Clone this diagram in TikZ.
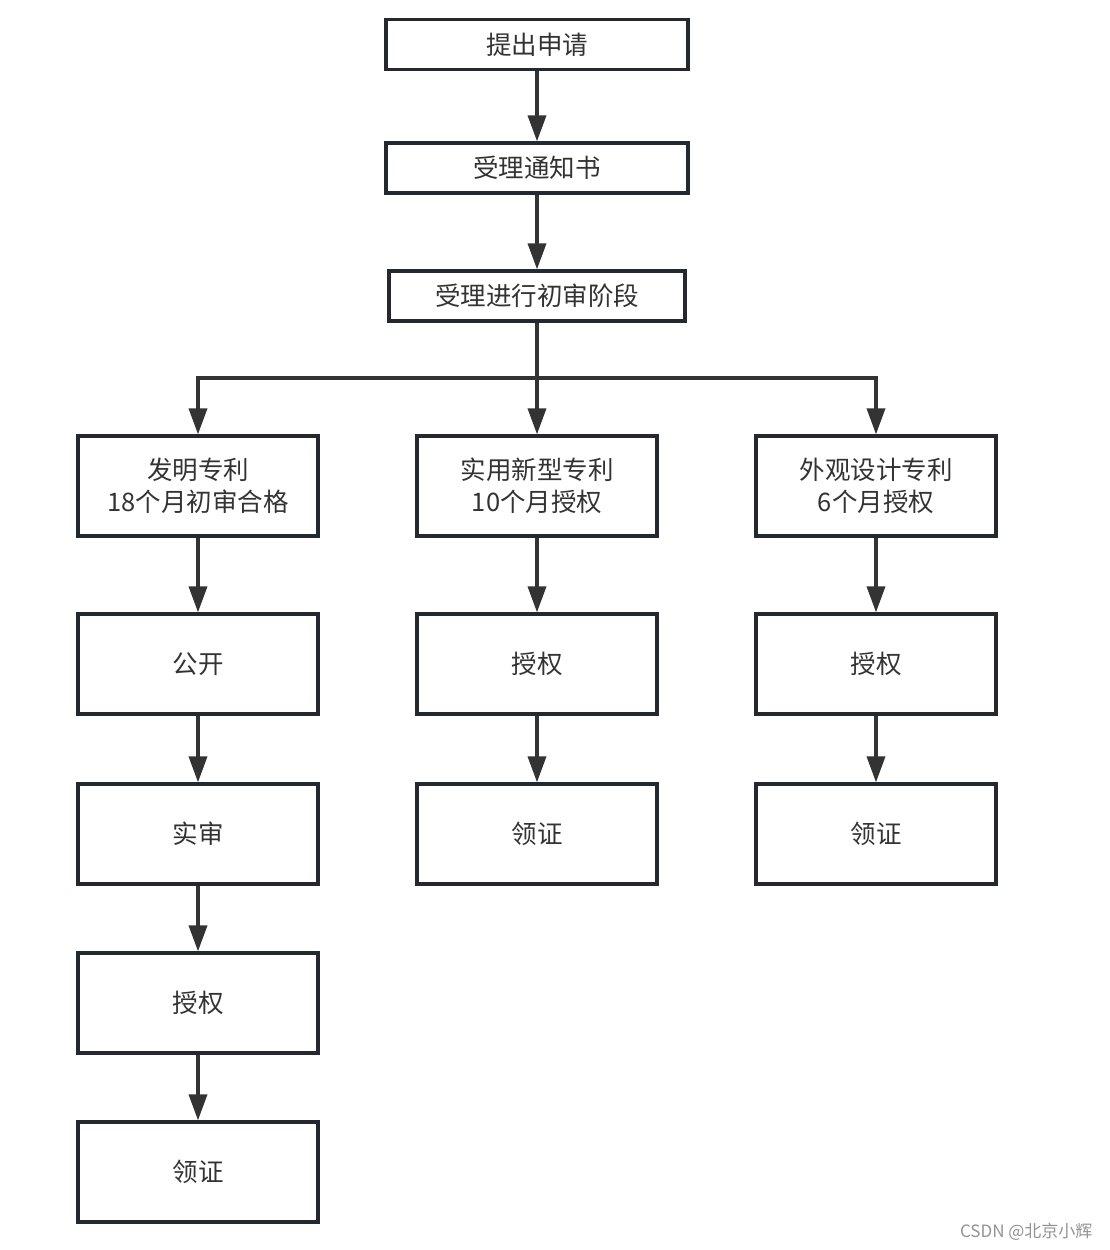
\documentclass[tikz,border=0pt]{standalone}
\usepackage{fontspec}
\newfontfamily\cjk{Noto Sans CJK SC}
\usetikzlibrary{arrows.meta}
\definecolor{boxline}{HTML}{23292E}
\definecolor{arrowc}{HTML}{333333}
\definecolor{txt}{HTML}{333333}
\begin{document}
\begin{tikzpicture}[x=1pt,y=-1pt,
  every node/.style={font=\cjk\fontsize{25.5}{32}\selectfont, text=txt},
  topbox/.style={draw=boxline, line width=3.2pt, minimum height=50pt, inner sep=0pt, align=center},
  bigbox/.style={draw=boxline, line width=3.2pt, minimum width=240pt, minimum height=100pt, inner sep=0pt, align=center},
  conn/.style={draw=arrowc, line width=3.5pt, -{Triangle[length=26pt,width=18pt]}},
  plain/.style={draw=arrowc, line width=3.5pt}]
\useasboundingbox (0,0) rectangle (1110,1250);
\node[topbox, minimum width=302pt] (b1) at (537,44.5) {提出申请};
\node[topbox, minimum width=302pt] (b2) at (537,168) {受理通知书};
\node[topbox, minimum width=296pt] (b3) at (537,296) {受理进行初审阶段};
\node[bigbox] (l1) at (198,486) {发明专利\\18个月初审合格};
\node[bigbox] (m1) at (537,486) {实用新型专利\\10个月授权};
\node[bigbox] (r1) at (876,486) {外观设计专利\\6个月授权};
\node[bigbox] (l2) at (198,664) {公开};
\node[bigbox] (l3) at (198,834) {实审};
\node[bigbox] (l4) at (198,1003) {授权};
\node[bigbox] (l5) at (198,1172) {领证};
\node[bigbox] (m2) at (537,664) {授权};
\node[bigbox] (m3) at (537,834) {领证};
\node[bigbox] (r2) at (876,664) {授权};
\node[bigbox] (r3) at (876,834) {领证};
\coordinate (jn) at (537,378);
\coordinate (jl) at (198,378);
\coordinate (jr) at (876,378);
\draw[conn] (b1) -- (b2);
\draw[conn] (b2) -- (b3);
\draw[plain] (b3.south) -- (jn);
\draw[plain, line cap=rect] (jl) -- (jr);
\draw[conn] (jn) -- (m1.north);
\draw[conn] (jl) -- (l1.north);
\draw[conn] (jr) -- (r1.north);
\draw[conn] (l1) -- (l2);
\draw[conn] (l2) -- (l3);
\draw[conn] (l3) -- (l4);
\draw[conn] (l4) -- (l5);
\draw[conn] (m1) -- (m2);
\draw[conn] (m2) -- (m3);
\draw[conn] (r1) -- (r2);
\draw[conn] (r2) -- (r3);
\node[font=\cjk\fontsize{17}{19}\selectfont, text=gray!85, anchor=east] (wm) at (1096,1232) {CSDN @北京小辉};
\end{tikzpicture}
\end{document}
